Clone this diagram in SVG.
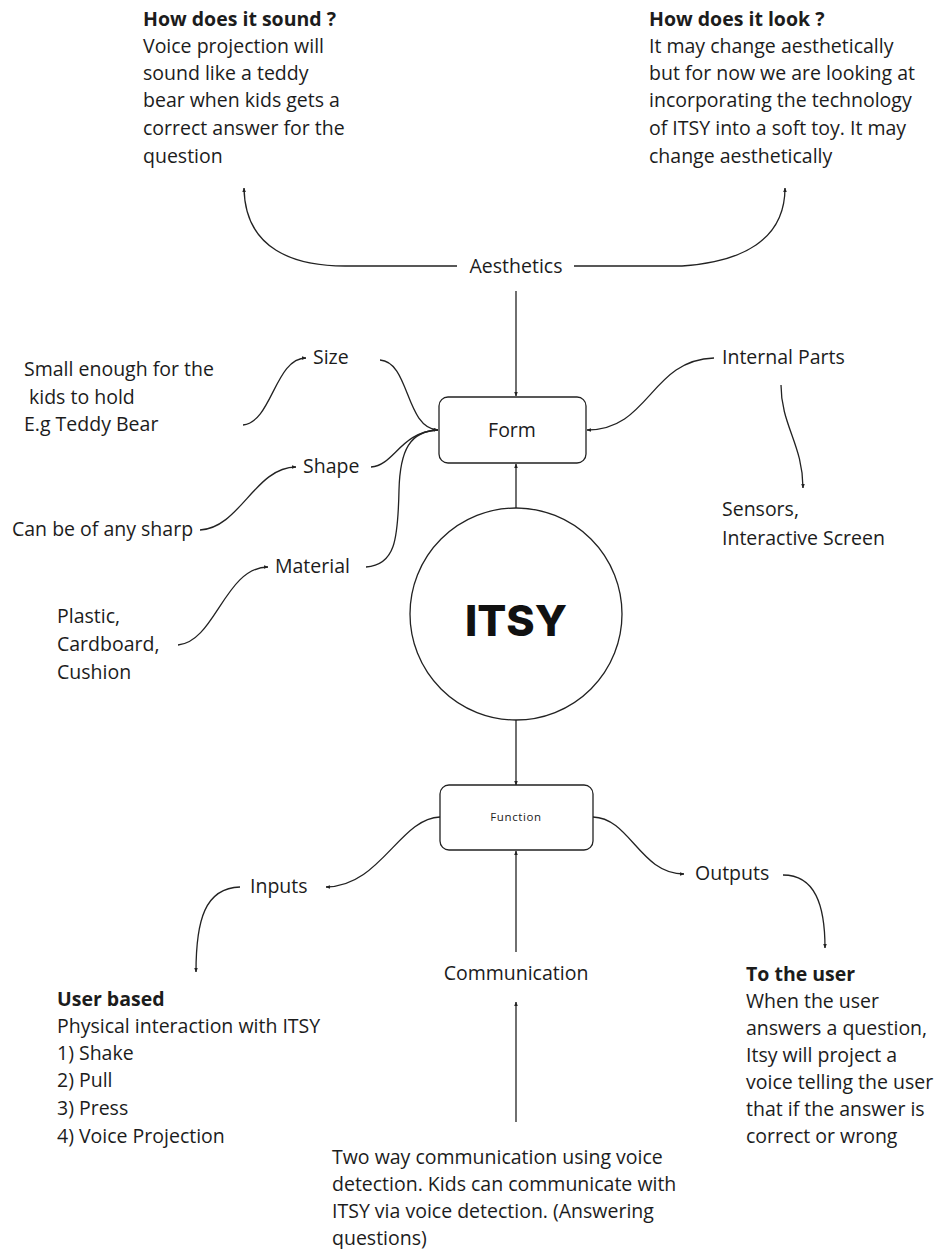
<svg xmlns="http://www.w3.org/2000/svg" width="941" height="1249" viewBox="0 0 941 1249">
<style>
text{font-family:"Open Sans","Liberation Sans",sans-serif;font-size:19.5px;fill:#1c1c1c}
.b{font-weight:700}
.c{text-anchor:middle}
.ln{fill:none;stroke:#222;stroke-width:1.3}
.box{fill:#fff;stroke:#222;stroke-width:1.3}
</style>
<defs>
<marker id="ah" viewBox="0 0 10 10" refX="9" refY="5" markerWidth="4.5" markerHeight="4.5" orient="auto" markerUnits="userSpaceOnUse">
<path d="M0,1 L10,5 L0,9 z" fill="#222"/>
</marker>
</defs>
<rect width="941" height="1249" fill="#fff"/>

<g id="connectors">
<path class="ln" d="M457,266 L345,266 C295,266 245,250 244,188" marker-end="url(#ah)"/>
<path class="ln" d="M574,266 L682,266 C742,262 785,240 785,188" marker-end="url(#ah)"/>
<path class="ln" d="M516,291 L516,396" marker-end="url(#ah)"/>
<path class="ln" d="M243,425 C272,422 275,358 306,358" marker-end="url(#ah)"/>
<path class="ln" d="M380,360 C410,362 405,428 438,430" marker-end="url(#ah)"/>
<path class="ln" d="M200,530 C240,528 255,467 296,467"  marker-end="url(#ah)"/>
<path class="ln" d="M371,467 C395,465 400,432 438,430"/>
<path class="ln" d="M178,645 C215,642 225,567 268,567" marker-end="url(#ah)"/>
<path class="ln" d="M366,567 C395,565 398,540 399,490 C400,450 410,431 438,430"/>
<path class="ln" d="M714,358 C650,360 650,430 587,430" marker-end="url(#ah)"/>
<path class="ln" d="M781,385 C781,425 803,445 803,488" marker-end="url(#ah)"/>
<path class="ln" d="M516,508 L516,464" marker-end="url(#ah)"/>
<path class="ln" d="M516,720 L516,785" marker-end="url(#ah)"/>
<path class="ln" d="M440,817 C400,818 380,887 326,887" marker-end="url(#ah)"/>
<path class="ln" d="M240,887 C205,888 196,920 196,972" marker-end="url(#ah)"/>
<path class="ln" d="M593,817 C630,818 640,874 684,874" marker-end="url(#ah)"/>
<path class="ln" d="M783,875 C815,875 825,905 825,948" marker-end="url(#ah)"/>
<path class="ln" d="M516,952 L516,851" marker-end="url(#ah)"/>
<path class="ln" d="M516,1122 L516,1002" marker-end="url(#ah)"/>
</g>

<g id="sound">
<text x="143" y="26" class="b">How does it sound ?</text>
<text x="143" y="53">Voice projection will</text>
<text x="143" y="80">sound like a teddy</text>
<text x="143" y="107">bear when kids gets a</text>
<text x="143" y="135">correct answer for the</text>
<text x="143" y="163">question</text>
</g>
<g id="look">
<text x="649" y="26" class="b">How does it look ?</text>
<text x="649" y="53">It may change aesthetically</text>
<text x="649" y="80">but for now we are looking at</text>
<text x="649" y="107">incorporating the technology</text>
<text x="649" y="135">of ITSY into a soft toy. It may</text>
<text x="649" y="163">change aesthetically</text>
</g>
<g id="aesthetics"><text x="516" y="273" class="c">Aesthetics</text></g>

<g id="size"><text x="313" y="364">Size</text></g>
<g id="size-note">
<text x="24" y="376">Small enough for the</text>
<text x="29" y="404">kids to hold</text>
<text x="24" y="431">E.g Teddy Bear</text>
</g>
<g id="shape"><text x="303" y="473">Shape</text></g>
<g id="shape-note"><text x="12" y="536">Can be of any sharp</text></g>
<g id="material"><text x="275" y="573">Material</text></g>
<g id="material-note">
<text x="57" y="623">Plastic,</text>
<text x="57" y="651">Cardboard,</text>
<text x="57" y="679">Cushion</text>
</g>

<g id="form">
<rect class="box" x="439" y="397" width="147" height="66" rx="9"/>
<text x="512" y="437" class="c">Form</text>
</g>
<g id="internal"><text x="722" y="364">Internal Parts</text></g>
<g id="internal-note">
<text x="722" y="516">Sensors,</text>
<text x="722" y="545">Interactive Screen</text>
</g>

<g id="itsy">
<circle cx="516" cy="614" r="106" fill="#fff" stroke="#222" stroke-width="1.3"/>
<text x="516" y="636" class="c" style="font-family:Inter,'Open Sans',sans-serif;font-weight:800;font-size:43px;fill:#111">ITSY</text>
</g>

<g id="function">
<rect class="box" x="440" y="785" width="153" height="65" rx="9"/>
<text x="516" y="821" class="c" style="font-size:11.5px;letter-spacing:0.6px;fill:#222">Function</text>
</g>
<g id="inputs"><text x="250" y="893">Inputs</text></g>
<g id="outputs"><text x="695" y="880">Outputs</text></g>
<g id="communication"><text x="516" y="980" class="c">Communication</text></g>

<g id="user-based">
<text x="57" y="1006" class="b">User based</text>
<text x="57" y="1033">Physical interaction with ITSY</text>
<text x="57" y="1060">1) Shake</text>
<text x="57" y="1087">2)  Pull</text>
<text x="57" y="1115">3)  Press</text>
<text x="57" y="1143">4) Voice Projection</text>
</g>
<g id="to-user">
<text x="746" y="981" class="b">To the user</text>
<text x="746" y="1008">When the user</text>
<text x="746" y="1035">answers a question,</text>
<text x="746" y="1062">Itsy will project a</text>
<text x="746" y="1089">voice telling the user</text>
<text x="746" y="1116">that if the answer is</text>
<text x="746" y="1143">correct or wrong</text>
</g>
<g id="comm-note">
<text x="332" y="1164">Two way communication using voice</text>
<text x="332" y="1191">detection. Kids can communicate with</text>
<text x="332" y="1218">ITSY via voice detection. (Answering</text>
<text x="332" y="1245">questions)</text>
</g>
</svg>
